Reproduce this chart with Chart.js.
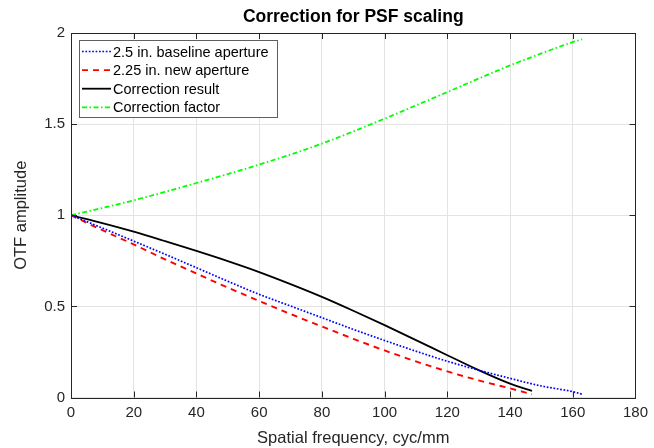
<!DOCTYPE html>
<html>
<head>
<meta charset="utf-8">
<script src="https://cdn.jsdelivr.net/npm/chart.js@4.4.1/dist/chart.umd.min.js"></script>
<style>
  html, body { margin: 0; padding: 0; background: #fff; }
  #wrap { width: 654px; height: 448px; position: relative; }
</style>
</head>
<body>
<div id="wrap"><canvas id="otfChart"></canvas></div>
<script>
  // Values
  const freqBaseline = [0, 10, 20, 30, 40, 50, 60, 70, 80, 90, 100, 110, 120, 130, 140, 150, 160, 163];
  const baselineOtf = [1.0, 0.93, 0.858, 0.786, 0.712, 0.638, 0.566, 0.502, 0.438, 0.374, 0.313, 0.254, 0.199, 0.15, 0.105, 0.063, 0.032, 0.018];
  const factorValues = [1.0, 1.04, 1.082, 1.128, 1.177, 1.226, 1.278, 1.333, 1.393, 1.46, 1.53, 1.603, 1.676, 1.75, 1.822, 1.888, 1.95, 1.965];

  const freqNew = [0, 10, 20, 30, 40, 50, 60, 70, 80, 90, 100, 110, 120, 130, 140, 147];
  const newOtf = [1.0, 0.918, 0.84, 0.758, 0.68, 0.603, 0.53, 0.458, 0.39, 0.322, 0.258, 0.198, 0.143, 0.094, 0.05, 0.018];
  const resultOtf = [1.0, 0.957, 0.91, 0.858, 0.804, 0.748, 0.688, 0.622, 0.552, 0.476, 0.397, 0.315, 0.232, 0.15, 0.076, 0.036];

  const xTicks = [0, 20, 40, 60, 80, 100, 120, 140, 160, 180];
  const yTicks = [0, 0.5, 1, 1.5, 2];

  const seriesLabels = ['2.5 in. baseline aperture', '2.25 in. new aperture', 'Correction result', 'Correction factor'];

  const FONT = "'Liberation Sans', Arial, sans-serif";

  function toPoints(xs, ys) {
    return xs.map((x, i) => ({ x: x, y: ys[i] }));
  }

  // box, inward ticks, title and in-plot legend, MATLAB style
  const matlabFrame = {
    id: 'matlabFrame',
    afterDatasetsDraw(chart) {
      const { ctx, chartArea: a, scales } = chart;
      ctx.save();
      ctx.strokeStyle = '#262626';
      ctx.lineWidth = 1;
      ctx.beginPath();
      xTicks.forEach((t) => {
        const px = Math.round(scales.x.getPixelForValue(t)) + 0.5;
        ctx.moveTo(px, a.bottom); ctx.lineTo(px, a.bottom - 6);
        ctx.moveTo(px, a.top); ctx.lineTo(px, a.top + 6);
      });
      yTicks.forEach((t) => {
        const py = Math.round(scales.y.getPixelForValue(t)) + 0.5;
        ctx.moveTo(a.left, py); ctx.lineTo(a.left + 6, py);
        ctx.moveTo(a.right, py); ctx.lineTo(a.right - 6, py);
      });
      ctx.stroke();
      ctx.strokeRect(Math.round(a.left) + 0.5, Math.round(a.top) + 0.5,
        Math.round(a.right - a.left), Math.round(a.bottom - a.top));

      // title
      ctx.fillStyle = '#000';
      ctx.font = 'bold 17.5px ' + FONT;
      ctx.textAlign = 'center';
      ctx.textBaseline = 'middle';
      ctx.fillText('Correction for PSF scaling', (a.left + a.right) / 2, 17);

      // legend
      const lx = 79.5, ly = 40.5, lw = 198, lh = 77;
      ctx.fillStyle = '#fff';
      ctx.fillRect(lx, ly, lw, lh);
      ctx.strokeStyle = '#5f5f5f';
      ctx.lineWidth = 1;
      ctx.strokeRect(lx, ly, lw, lh);
      ctx.font = '14.5px ' + FONT;
      ctx.textAlign = 'left';
      chart.data.datasets.forEach((ds, i) => {
        const rowY = 51.5 + i * 18.6;
        ctx.save();
        ctx.strokeStyle = ds.borderColor;
        ctx.lineWidth = ds.borderWidth;
        ctx.setLineDash(ds.borderDash || []);
        ctx.beginPath();
        ctx.moveTo(82, rowY);
        ctx.lineTo(111, rowY);
        ctx.stroke();
        ctx.restore();
        ctx.fillStyle = '#000';
        ctx.fillText(ds.label, 113, rowY + 1);
      });
      ctx.restore();
    }
  };

  new Chart(document.getElementById('otfChart'), {
    type: 'line',
    data: {
      datasets: [
        {
          label: seriesLabels[0],
          data: toPoints(freqBaseline, baselineOtf),
          borderColor: '#0000ff',
          borderWidth: 1.7,
          borderDash: [1.7, 1.7],
        },
        {
          label: seriesLabels[1],
          data: toPoints(freqNew, newOtf),
          borderColor: '#ff0000',
          borderWidth: 1.9,
          borderDash: [6, 5],
        },
        {
          label: seriesLabels[2],
          data: toPoints(freqNew, resultOtf),
          borderColor: '#000000',
          borderWidth: 1.8,
        },
        {
          label: seriesLabels[3],
          data: toPoints(freqBaseline, factorValues),
          borderColor: '#00ff00',
          borderWidth: 1.8,
          borderDash: [5, 2.5, 1.5, 2.5],
        },
      ],
    },
    options: {
      responsive: true,
      maintainAspectRatio: false,
      animation: false,
      devicePixelRatio: 1,
      layout: { padding: { left: 0, right: 14, top: 33, bottom: 0 } },
      elements: {
        point: { radius: 0 },
        line: { tension: 0.4, cubicInterpolationMode: 'monotone', fill: false },
      },
      plugins: {
        legend: { display: false },
        tooltip: { enabled: false },
        title: { display: false },
      },
      scales: {
        x: {
          type: 'linear',
          min: 0,
          max: 180,
          afterFit: (scale) => { scale.height = 50.5; },
          afterBuildTicks: (scale) => { scale.ticks = xTicks.map((v) => ({ value: v })); },
          grid: { color: '#e3e3e3', drawTicks: false },
          border: { display: false },
          ticks: { color: '#262626', padding: 6, maxRotation: 0, font: { family: FONT, size: 15 } },
          title: {
            display: true,
            text: 'Spatial frequency, cyc/mm',
            color: '#262626',
            font: { family: FONT, size: 16.5 },
            padding: { top: 0, bottom: 0 },
          },
        },
        y: {
          min: 0,
          max: 2,
          afterFit: (scale) => { scale.width = 71; },
          afterBuildTicks: (scale) => { scale.ticks = yTicks.map((v) => ({ value: v })); },
          grid: { color: '#e3e3e3', drawTicks: false },
          border: { display: false },
          ticks: {
            color: '#262626',
            padding: 6,
            font: { family: FONT, size: 15 },
            callback: (v) => String(v),
          },
          title: {
            display: true,
            text: 'OTF amplitude',
            color: '#262626',
            font: { family: FONT, size: 16.5 },
            padding: { top: 12, bottom: 0 },
          },
        },
      },
    },
    plugins: [matlabFrame],
  });
</script>
</body>
</html>
